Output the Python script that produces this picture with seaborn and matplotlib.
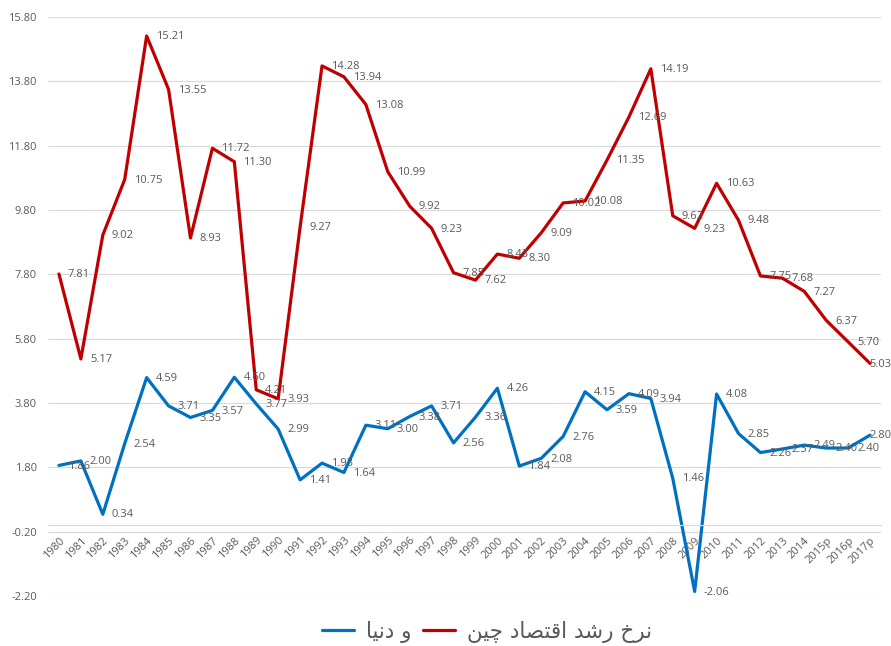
import numpy as np
import pandas as pd
import matplotlib
matplotlib.use("Agg")
import matplotlib.pyplot as plt
import seaborn as sns

years = [str(y) for y in range(1980, 2015)] + ["2015p", "2016p", "2017p"]
china = [7.81, 5.17, 9.02, 10.75, 15.21, 13.55, 8.93, 11.72, 11.30, 4.21,
         3.93, 9.27, 14.28, 13.94, 13.08, 10.99, 9.92, 9.23, 7.85, 7.62,
         8.43, 8.30, 9.09, 10.02, 10.08, 11.35, 12.69, 14.19, 9.62, 9.23,
         10.63, 9.48, 7.75, 7.68, 7.27, 6.37, 5.70, 5.03]
world = [1.86, 2.00, 0.34, 2.54, 4.59, 3.71, 3.35, 3.57, 4.60, 3.77,
         2.99, 1.41, 1.93, 1.64, 3.11, 3.00, 3.38, 3.71, 2.56, 3.36,
         4.26, 1.84, 2.08, 2.76, 4.15, 3.59, 4.09, 3.94, 1.46, -2.06,
         4.08, 2.85, 2.26, 2.37, 2.49, 2.40, 2.40, 2.80]
china_name = "نرخ رشد اقتصاد چین"
world_name = "و دنیا"
yticks = [-2.20, -0.20, 1.80, 3.80, 5.80, 7.80, 9.80, 11.80, 13.80, 15.80]

# --- minimal Persian shaping (matplotlib has no complex text layout) ---
FORMS = {  # isolated, final, initial, medial
    'ن': ('\uFEE5', '\uFEE6', '\uFEE7', '\uFEE8'),
    'ر': ('\uFEAD', '\uFEAE', None, None),
    'خ': ('\uFEA5', '\uFEA6', '\uFEA7', '\uFEA8'),
    'ش': ('\uFEB5', '\uFEB6', '\uFEB7', '\uFEB8'),
    'د': ('\uFEA9', '\uFEAA', None, None),
    'ا': ('\uFE8D', '\uFE8E', None, None),
    'ق': ('\uFED5', '\uFED6', '\uFED7', '\uFED8'),
    'ت': ('\uFE95', '\uFE96', '\uFE97', '\uFE98'),
    'ص': ('\uFEB9', '\uFEBA', '\uFEBB', '\uFEBC'),
    'چ': ('\uFB7A', '\uFB7B', '\uFB7C', '\uFB7D'),
    'ی': ('\uFBFC', '\uFBFD', '\uFBFE', '\uFBFF'),
    'و': ('\uFEED', '\uFEEE', None, None),
}


def shape(s):
    out = []
    for i, c in enumerate(s):
        if c not in FORMS:
            out.append(c)
            continue
        prev = s[i - 1] if i > 0 else None
        nxt = s[i + 1] if i + 1 < len(s) else None
        jp = prev in FORMS and FORMS[prev][2] is not None
        jn = nxt in FORMS and FORMS[c][2] is not None
        f = FORMS[c]
        if jp and jn:
            ch = f[3]
        elif jp:
            ch = f[1]
        elif jn:
            ch = f[2]
        else:
            ch = f[0]
        out.append(ch)
    return "".join(reversed(out))


sns.set_theme(style="white")
plt.rcParams["font.family"] = ["Open Sans", "DejaVu Sans"]

n = len(years)
xs = np.arange(n)
df = pd.DataFrame({
    "x": np.concatenate([xs, xs]),
    "value": world + china,
    "series": [world_name] * n + [china_name] * n,
})

fig = plt.figure(figsize=(8.91, 6.46), dpi=100)
ax = fig.add_axes([48 / 891, 1 - 596 / 646, (881 - 48) / 891, (596 - 17) / 646])

palette = {world_name: "#0070C0", china_name: "#C00000"}
sns.lineplot(data=df, x="x", y="value", hue="series",
             hue_order=[world_name, china_name], palette=palette,
             linewidth=2.3, ax=ax, legend=True, sort=False)

label_color = "#595959"
for series in (china, world):
    for xi, v in zip(xs, series):
        dx = 6.5 if xi < n - 1 else -0.5
        ax.annotate(f"{v:.2f}", (xi, v), xytext=(dx, -0.5), textcoords="offset points",
                    ha="left", va="center", fontsize=8, color=label_color)

for s in ("left", "right", "top"):
    ax.spines[s].set_visible(False)
ax.spines["bottom"].set_position(("data", 0))
ax.spines["bottom"].set_color("#d9d9d9")
ax.spines["bottom"].set_linewidth(0.8)

ax.set_xlim(-0.5, n - 0.5)
ax.set_ylim(-2.2, 15.8)
ax.set_yticks(yticks)
ax.set_yticklabels([f"{t:.2f}" for t in yticks], fontsize=8, color=label_color)
ax.yaxis.grid(True, color="#d9d9d9", linewidth=0.8)
ax.xaxis.grid(False)
ax.set_xticks(xs)
ax.set_xticklabels(years, rotation=45, ha="right", va="top",
                   rotation_mode="anchor", fontsize=8, color=label_color)
ax.tick_params(axis="both", length=0)
ax.tick_params(axis="x", pad=7)
ax.tick_params(axis="y", pad=8)
ax.set_xlabel("")
ax.set_ylabel("")

handles, labels = ax.get_legend_handles_labels()
ax.get_legend().remove()
leg = fig.legend(handles, [shape(l) for l in labels], loc="center",
                 bbox_to_anchor=(487 / 891, 1 - 632 / 646), ncol=2, frameon=False,
                 prop={"family": ["DejaVu Sans"], "size": 15.5},
                 handlelength=1.5, handletextpad=0.55, columnspacing=0.55)
for t in leg.get_texts():
    t.set_color(label_color)

fig.savefig("out.png", dpi=100)
